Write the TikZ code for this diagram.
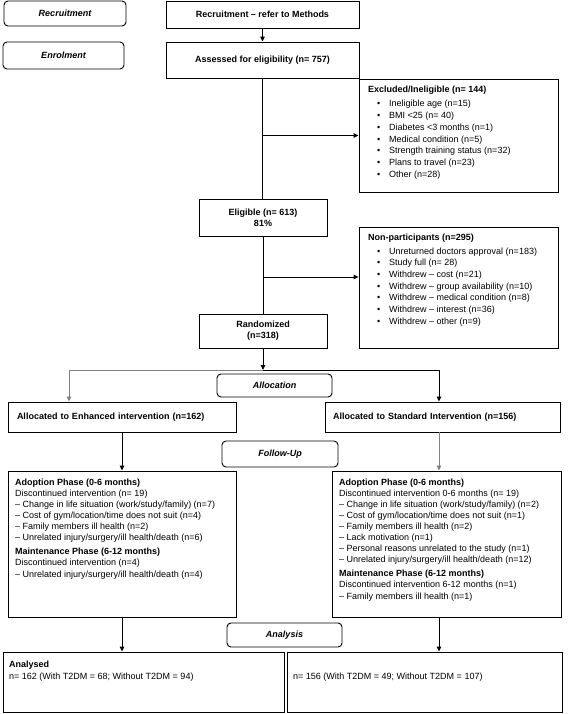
\documentclass[tikz,border=0pt]{standalone}
\usepackage{fontspec}
\setmainfont{Liberation Sans}
\usetikzlibrary{arrows.meta,calc}
\newcommand{\tlines}[2]{\begin{minipage}[t]{#1}\raggedright #2\end{minipage}}
\newcommand{\bul}{\hspace*{9pt}\makebox[12pt][l]{•}}
\definecolor{lgray}{RGB}{128,128,128}
\begin{document}
\begin{tikzpicture}[x=1pt,y=-1pt,
  font=\fontsize{9}{11.2}\selectfont,
  box/.style={draw, line width=0.9pt, inner sep=0pt},
  bbox/.style={box, font=\fontsize{9}{11}\selectfont\bfseries, align=center},
  side/.style={box, rounded corners=4pt, font=\fontsize{9}{11}\selectfont\bfseries\itshape},
  conn/.style={line width=0.9pt},
  arr/.style={conn, -{Triangle[length=5pt,width=4.5pt]}},
  txt/.style={inner sep=0pt, anchor=base west, align=left},
]
\useasboundingbox (0,0) rectangle (567,714);
\fill[white] (0,0) rectangle (567,714);

% side labels
\node[side, minimum width=122pt, minimum height=25pt] (recS) at (65,13.5) {Recruitment};
\node[side, minimum width=121pt, minimum height=27pt] (enrS) at (63.5,55.5) {Enrolment};
\node[side, minimum width=115pt, minimum height=23pt] (alloc) at (274.5,385.5) {Allocation};
\node[side, minimum width=116pt, minimum height=26pt] (follow) at (280,454) {Follow-Up};
\node[side, minimum width=115pt, minimum height=24pt] (analy) at (284.5,635) {Analysis};

% main column
\node[bbox, minimum width=193pt, minimum height=27pt] (recM) at (262.5,14.5) {Recruitment – refer to Methods};
\node[bbox, minimum width=193pt, minimum height=36pt] (assess) at (262.5,60) {Assessed for eligibility (n= 757)};
\node[bbox, minimum width=128pt, minimum height=37pt] (elig) at (263,217.5) {Eligible (n= 613)\\81\%};
\node[bbox, minimum width=128pt, minimum height=34pt] (rand) at (263,331) {Randomized\\(n=318)};

% exclusion boxes
\node[box, minimum width=199pt, minimum height=113pt] (excl) at (458.5,135.5) {};
\node[txt] (exclT) at (368,93) {\tlines{185pt}{\fontsize{9}{11.7}\selectfont
\textbf{Excluded/Ineligible (n= 144)}\\[2.3pt]
\bul Ineligible age (n=15)\\
\bul BMI <25 (n= 40)\\
\bul Diabetes <3 months (n=1)\\
\bul Medical condition (n=5)\\
\bul Strength training status (n=32)\\
\bul Plans to travel (n=23)\\
\bul Other (n=28)}};

\node[box, minimum width=199pt, minimum height=121pt] (nonp) at (458.5,287.5) {};
\node[txt] (nonpT) at (368,240) {\tlines{185pt}{\fontsize{9}{11.7}\selectfont
\textbf{Non-participants (n=295)}\\[2.3pt]
\bul Unreturned doctors approval (n=183)\\
\bul Study full (n= 28)\\
\bul Withdrew – cost (n=21)\\
\bul Withdrew – group availability (n=10)\\
\bul Withdrew – medical condition (n=8)\\
\bul Withdrew – interest (n=36)\\
\bul Withdrew – other (n=9)}};

% allocation
\node[box, font=\fontsize{9}{11}\selectfont\bfseries, minimum width=228pt, minimum height=30pt, inner xsep=9pt, text width=210pt, align=left] (enh) at (122,417) {Allocated to Enhanced intervention (n=162)};
\node[box, font=\fontsize{9}{11}\selectfont\bfseries, minimum width=235pt, minimum height=30pt, inner xsep=8pt, text width=219pt, align=left] (std) at (442.5,417) {Allocated to Standard Intervention (n=156)};

% follow-up boxes
\node[box, minimum width=228pt, minimum height=146pt] (adoL) at (122,544) {};
\node[txt] (adoLT) at (15,485) {\tlines{220pt}{\fontsize{9}{11.1}\selectfont
\textbf{Adoption Phase (0-6 months)}\\
Discontinued intervention (n= 19)\\
– Change in life situation (work/study/family) (n=7)\\
– Cost of gym/location/time does not suit (n=4)\\
– Family members ill health (n=2)\\
– Unrelated injury/surgery/ill health/death (n=6)\\[3.2pt]
\textbf{Maintenance Phase (6-12 months)}\\
Discontinued intervention (n=4)\\
– Unrelated injury/surgery/ill health/death (n=4)}};

\node[box, minimum width=229pt, minimum height=146pt] (adoR) at (446.5,544) {};
\node[txt] (adoRT) at (339,485) {\tlines{220pt}{\fontsize{9}{11.1}\selectfont
\textbf{Adoption Phase (0-6 months)}\\
Discontinued intervention 0-6 months (n= 19)\\
– Change in life situation (work/study/family) (n=2)\\
– Cost of gym/location/time does not suit (n=1)\\
– Family members ill health (n=2)\\
– Lack motivation (n=1)\\
– Personal reasons unrelated to the study (n=1)\\
– Unrelated injury/surgery/ill health/death (n=12)\\[3pt]
\textbf{Maintenance Phase (6-12 months)}\\
Discontinued intervention 6-12 months (n=1)\\
– Family members ill health (n=1)}};

% analysis boxes
\node[box, minimum width=281pt, minimum height=60pt] (anaL) at (143.5,682) {};
\node[txt] (anaLT) at (9,667) {\tlines{270pt}{\fontsize{9}{12}\selectfont
\textbf{Analysed}\\
n= 162 (With T2DM = 68; Without T2DM = 94)}};
\node[box, minimum width=275pt, minimum height=60pt] (anaR) at (424.5,682) {};
\node[txt] (anaRT) at (293,679) {n= 156 (With T2DM = 49; Without T2DM = 107)};

% connector coordinates
\coordinate (brE) at (262.5,135.5);
\coordinate (brN) at (263,277);
\coordinate (split) at (263,370);
\coordinate (splitL) at (69,370);
\coordinate (splitR) at (439,370);

% connectors
\draw[arr] (recM) -- (assess);
\draw[conn] (assess.south) -- (assess.south |- elig.north);
\draw[arr] (brE) -- (excl.west);
\draw[conn] (elig.south) -- (rand.north);
\draw[arr] (brN) -- (brN -| nonp.west);
\draw[arr] (rand.south) -- (split);
\draw[conn, lgray] (split) -- (splitL);
\draw[arr, lgray] (splitL) -- (splitL |- enh.north);
\draw[conn] (split) -- (splitR);
\draw[arr] (splitR) -- (splitR |- std.north);
\draw[arr] (enh.south) -- (adoL.north);
\draw[arr, lgray] (splitR |- std.south) -- (splitR |- adoR.north);
\draw[arr] (adoL.south) -- (adoL.south |- anaL.north);
\draw[arr] (splitR |- adoR.south) -- (splitR |- anaR.north);
\end{tikzpicture}
\end{document}
